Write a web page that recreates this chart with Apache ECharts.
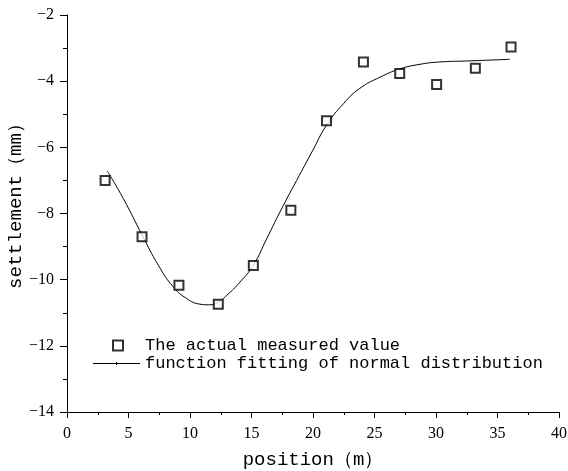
<!DOCTYPE html>
<html>
<head>
<meta charset="utf-8">
<script src="https://cdn.jsdelivr.net/npm/echarts@6/dist/echarts.min.js"></script>
<style>html,body{margin:0;padding:0;background:#fff}#c{width:568px;height:471px}</style>
</head>
<body>
<div id="c"></div>
<script>
// Measured values (position m, settlement mm)
var measuredX = [3.1, 6.1, 9.1, 12.3, 15.15, 18.2, 21.1, 24.1, 27.05, 30.05, 33.2, 36.1];
var measuredY = [-7.0, -8.7, -10.17, -10.74, -9.57, -7.9, -5.2, -3.42, -3.77, -4.1, -3.61, -2.97];
// Fitted curve
var fitX = [3.28, 4.58, 6.15, 7.42, 8.64, 9.73, 10.8, 11.5, 12.2, 13.0, 14.07, 15.15, 16.24, 17.32, 18.67, 20.0, 21.1, 22.5, 23.8, 25.45, 27.07, 28.7, 30.3, 32.5, 36.0];
var fitY = [-6.72, -7.55, -8.68, -9.56, -10.22, -10.57, -10.74, -10.76, -10.7, -10.47, -10.07, -9.56, -8.76, -7.95, -7.0, -6.08, -5.33, -4.67, -4.22, -3.88, -3.63, -3.49, -3.42, -3.39, -3.34];
var xTicks = {min: 0, max: 40, interval: 5};
var yTicks = {min: -14, max: -2, interval: 2};
var legendNames = ['The actual measured value', 'function fitting of normal distribution'];

function zip(a, b) { return a.map(function (v, i) { return [v, b[i]]; }); }
var serif = 'Liberation Serif';
var mono = 'Liberation Mono';

var chart = echarts.init(document.getElementById('c'), null, {renderer: 'canvas'});
chart.setOption({
  animation: false,
  backgroundColor: '#fff',
  grid: {left: 67, right: 9, top: 15, bottom: 59, containLabel: false, outerBoundsMode: 'none'},
  legend: [{
    data: [{name: legendNames[0], icon: 'emptyRect'}],
    left: 112, top: 337, padding: 0,
    itemWidth: 10, itemHeight: 10,
    textStyle: {fontFamily: mono, fontSize: 17, color: '#000', padding: [0, 0, 0, 17]},
    selectedMode: false
  }, {
    data: [{name: legendNames[1], icon: 'path://M0,1h47v1h-47z M23,0h1v3h-1z'}],
    left: 93, top: 355, padding: 0,
    itemWidth: 47, itemHeight: 3,
    itemStyle: {color: '#000', borderWidth: 0},
    textStyle: {fontFamily: mono, fontSize: 17, color: '#000'},
    selectedMode: false
  }],
  xAxis: {
    type: 'value', min: xTicks.min, max: xTicks.max, interval: xTicks.interval,
    name: 'position\uFF08m\uFF09', nameLocation: 'middle', nameGap: 38, nameMoveOverlap: false,
    nameTextStyle: {fontFamily: mono, fontSize: 19, color: '#000'},
    axisLine: {show: true, onZero: false, lineStyle: {color: '#000', width: 1}},
    axisTick: {show: true, inside: false, length: 6, lineStyle: {color: '#000'}},
    minorTick: {show: true, splitNumber: 2, length: 3, lineStyle: {color: '#000'}},
    splitLine: {show: false},
    axisLabel: {fontFamily: serif, fontSize: 16, color: '#000', margin: 14}
  },
  yAxis: {
    type: 'value', min: yTicks.min, max: yTicks.max, interval: yTicks.interval,
    name: 'settlement\uFF08mm\uFF09', nameLocation: 'middle', nameGap: 42, nameMoveOverlap: false,
    nameTextStyle: {fontFamily: mono, fontSize: 19, color: '#000', padding: [0, 0, 0, 24]},
    axisLine: {show: true, onZero: false, lineStyle: {color: '#000', width: 1}},
    axisTick: {show: true, inside: false, length: 7, lineStyle: {color: '#000'}},
    minorTick: {show: true, splitNumber: 2, length: 4, lineStyle: {color: '#000'}},
    splitLine: {show: false},
    axisLabel: {fontFamily: serif, fontSize: 16, color: '#000', margin: 13,
      formatter: function (v) { return String(v).replace('-', '\u2212'); }}
  },
  series: [{
    name: legendNames[0],
    type: 'scatter',
    symbol: 'emptyRect',
    symbolSize: 9,
    itemStyle: {color: '#000', borderColor: '#000', borderWidth: 1},
    data: zip(measuredX, measuredY),
    z: 3
  }, {
    name: legendNames[1],
    type: 'line',
    smooth: 0.5,
    showSymbol: false,
    symbol: 'none',
    lineStyle: {color: '#000', width: 1},
    itemStyle: {color: '#000'},
    data: zip(fitX, fitY),
    z: 2
  }]
});
</script>
</body>
</html>
